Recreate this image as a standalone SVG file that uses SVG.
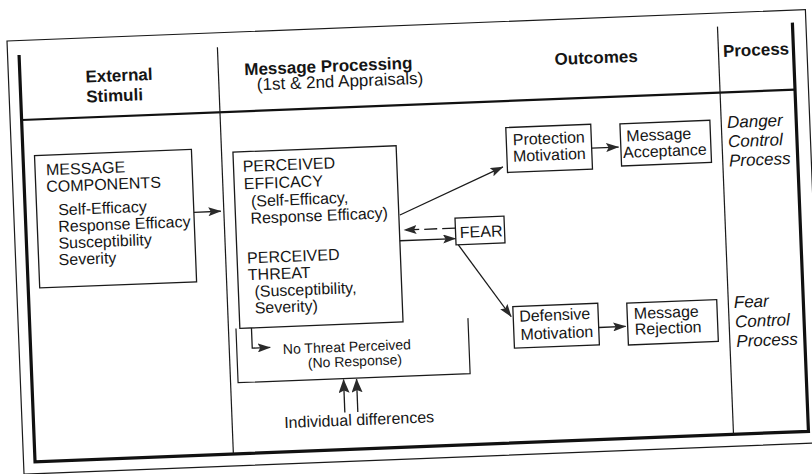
<svg xmlns="http://www.w3.org/2000/svg" width="812" height="474" viewBox="0 0 812 474">
  <defs>
    <style>
      text { font-family: "Liberation Sans", Arial, Helvetica, sans-serif; fill: #151515; }
      .hd { font-size: 17px; font-weight: bold; }
      .sub { font-size: 17px; }
      .bt { font-size: 16px; }
      .sm { font-size: 14px; }
      .it { font-size: 17px; font-style: italic; }
      .thin { stroke: #1a1a1a; stroke-width: 1.2; fill: none; }
      .thick { stroke: #111; stroke-width: 3.2; fill: none; }
      .hline { stroke: #111; stroke-width: 2.2; fill: none; }
      .box { fill: #fff; stroke: #1a1a1a; stroke-width: 1.3; }
      .conn { stroke: #1a1a1a; stroke-width: 1.3; fill: none; }
      .dash { stroke-dasharray: 13 5; }
      .ah { fill: #2a2a2a; }
    </style>
    <marker id="arr" viewBox="0 0 13 9" refX="12.5" refY="4.5" markerWidth="13" markerHeight="9" markerUnits="userSpaceOnUse" orient="auto">
      <path class="ah" d="M0,0 L13,4.5 L0,9 L2.5,4.5 z"/>
    </marker>
    <marker id="arrBig" viewBox="0 0 14 11" refX="13.5" refY="5.5" markerWidth="14" markerHeight="11" markerUnits="userSpaceOnUse" orient="auto">
      <path class="ah" d="M0,0 L14,5.5 L0,11 L2.5,5.5 z"/>
    </marker>
  </defs>
  <rect width="812" height="474" fill="#fff"/>
  <g transform="rotate(-2.25 406 237)">
    <g id="frame">
      <rect class="thin" x="15" y="25.5" width="799" height="433.5"/>
      <path class="thick" d="M26.5,40 V447 H800.5 V38"/>
      <path class="hline" d="M26.5,105 H800.5"/>
      <path class="thin" d="M225,40 V447"/>
      <path class="thin" d="M725.5,39 V447"/>
    </g>
    <g id="headers">
      <text class="hd" x="92" y="70">External</text>
      <text class="hd" x="92" y="90">Stimuli</text>
      <text class="hd" x="251" y="69">Message Processing</text>
      <text class="sub" x="263" y="84.5">(1st &amp; 2nd Appraisals)</text>
      <text class="hd" x="561.5" y="71">Outcomes</text>
      <text class="hd" x="730" y="69.5">Process</text>
    </g>
    <g id="message-components">
      <rect class="box" x="38" y="141" width="157" height="132.5"/>
      <text class="bt" x="49" y="161.3">MESSAGE</text>
      <text class="bt" x="48.5" y="178">COMPONENTS</text>
      <text class="bt" x="59.5" y="201.7">Self-Efficacy</text>
      <text class="bt" x="59" y="218.4">Response Efficacy</text>
      <text class="bt" x="58.5" y="235">Susceptibility</text>
      <text class="bt" x="58" y="251.7">Severity</text>
    </g>
    <g id="perceived">
      <rect class="box" x="236.4" y="145.4" width="163.3" height="176.4"/>
      <text class="bt" x="245.6" y="165.5">PERCEIVED</text>
      <text class="bt" x="246" y="183">EFFICACY</text>
      <text class="bt" x="252.5" y="200.6">(Self-Efficacy,</text>
      <text class="bt" x="251.3" y="217.6">Response Efficacy)</text>
      <text class="bt" x="246.4" y="257.2">PERCEIVED</text>
      <text class="bt" x="246.5" y="274">THREAT</text>
      <text class="bt" x="252.5" y="291">(Susceptibility,</text>
      <text class="bt" x="252" y="307.5">Severity)</text>
    </g>
    <g id="no-threat">
      <path class="thin" d="M232.5,321.8 V376 H464.7 V320.5"/>
      <text class="sm" x="278.6" y="349.2">No Threat Perceived</text>
      <text class="sm" x="303" y="364">(No Response)</text>
    </g>
    <g id="individual-differences">
      <text class="bt" x="277" y="423.2">Individual differences</text>
    </g>
    <g id="fear">
      <rect class="box" x="455.7" y="220" width="49" height="26.8"/>
      <text class="bt" x="460" y="240">FEAR</text>
    </g>
    <g id="protection-motivation">
      <rect class="box" x="510" y="131.6" width="85" height="44.9"/>
      <text class="bt" x="516.5" y="149.5">Protection</text>
      <text class="bt" x="516" y="166">Motivation</text>
    </g>
    <g id="message-acceptance">
      <rect class="box" x="624.2" y="132.3" width="90" height="42.2"/>
      <text class="bt" x="630.2" y="150.2">Message</text>
      <text class="bt" x="626.2" y="166.6">Acceptance</text>
    </g>
    <g id="defensive-motivation">
      <rect class="box" x="510" y="310.7" width="85" height="41.6"/>
      <text class="bt" x="516" y="326.2">Defensive</text>
      <text class="bt" x="516.5" y="344.3">Motivation</text>
    </g>
    <g id="message-rejection">
      <rect class="box" x="624" y="311.7" width="90" height="41.9"/>
      <text class="bt" x="630.7" y="328">Message</text>
      <text class="bt" x="631" y="343.7">Rejection</text>
    </g>
    <g id="danger-control">
      <text class="it" x="731.3" y="140.7">Danger</text>
      <text class="it" x="731.5" y="160">Control</text>
      <text class="it" x="731.8" y="179.2">Process</text>
    </g>
    <g id="fear-control">
      <text class="it" x="731" y="320.8">Fear</text>
      <text class="it" x="731.5" y="340.3">Control</text>
      <text class="it" x="732" y="359.9">Process</text>
    </g>
    <g id="connectors">
      <path class="conn" d="M195,204 H222" marker-end="url(#arr)"/>
      <path class="conn" d="M400.8,214.8 L505.6,170.8" marker-end="url(#arr)"/>
      <path class="conn dash" d="M455.5,230 H404.3" marker-end="url(#arr)"/>
      <path class="conn" d="M399.7,240.5 H455.5" marker-end="url(#arr)"/>
      <path class="conn" d="M458,247 L508,320.7" marker-end="url(#arr)"/>
      <path class="conn" d="M595,155.5 H622" marker-end="url(#arr)"/>
      <path class="conn" d="M595,335 H622" marker-end="url(#arr)"/>
      <path class="conn" d="M248,321.8 V342 H266" marker-end="url(#arr)"/>
      <path class="conn" d="M338,410 V377" marker-end="url(#arrBig)"/>
      <path class="conn" d="M351,410 V377" marker-end="url(#arrBig)"/>
    </g>
  </g>
</svg>
